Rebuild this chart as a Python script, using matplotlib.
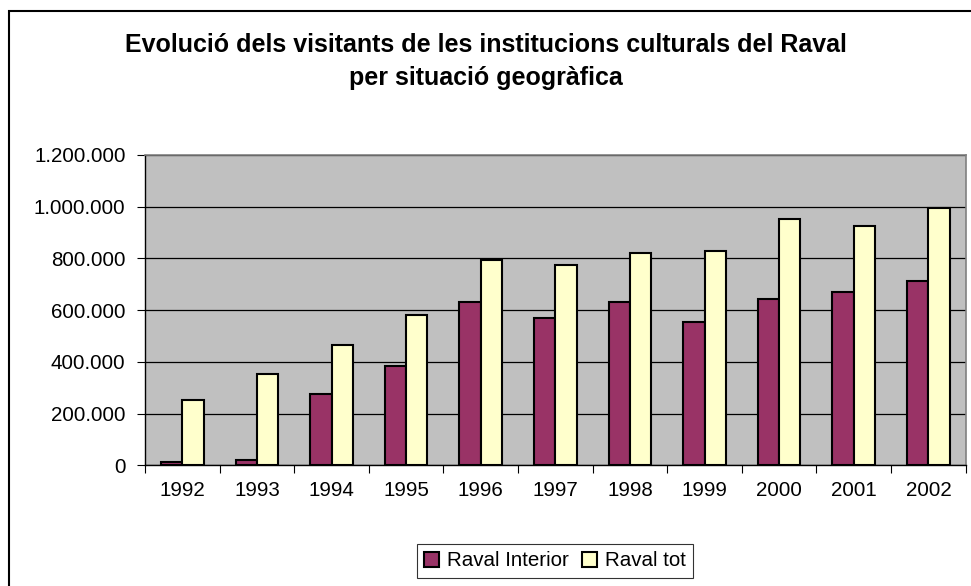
import matplotlib
matplotlib.use("Agg")
import matplotlib.pyplot as plt
from matplotlib.patches import Rectangle
from matplotlib.ticker import FuncFormatter, FixedLocator, NullFormatter
import numpy as np

plt.rcParams['font.family'] = ['Liberation Sans', 'DejaVu Sans']

years = ['1992', '1993', '1994', '1995', '1996', '1997',
         '1998', '1999', '2000', '2001', '2002']
raval_interior = [13000, 20000, 277000, 384000, 631000, 570000,
                  631000, 555000, 642000, 671000, 711000]
raval_tot = [254000, 354000, 464000, 581000, 795000, 773000,
             820000, 829000, 951000, 926000, 995000]

fig = plt.figure(figsize=(9.71, 5.86), dpi=100)
W, H = 971, 586

# chart frame (left/top edges only inside the image)
fig.patches.append(Rectangle((9 / W, -0.1), 1.2, 1 - 11 / H + 0.1,
                             transform=fig.transFigure, fill=False,
                             edgecolor='black', linewidth=1.5))

ax = fig.add_axes([145 / W, 1 - 465.3 / H, (965.7 - 145) / W, (465.3 - 155) / H])
ax.set_facecolor('#C0C0C0')

x = np.arange(len(years))
bw = 1 / 3.5
ax.bar(x - bw / 2, raval_interior, bw, color='#993366', edgecolor='black',
       linewidth=1.5, label='Raval Interior', zorder=3)
ax.bar(x + bw / 2, raval_tot, bw, color='#FFFFCC', edgecolor='black',
       linewidth=1.5, label='Raval tot', zorder=3)

ax.set_xlim(-0.5, len(years) - 0.5)
ax.set_ylim(0, 1200000)
ax.set_yticks(np.arange(0, 1200001, 200000))
ax.yaxis.set_major_formatter(FuncFormatter(lambda v, p: f'{int(v):,}'.replace(',', '.')))
ax.yaxis.grid(True, color='black', linewidth=0.9, zorder=1)
ax.set_axisbelow(True)

ax.xaxis.set_major_locator(FixedLocator(np.arange(-0.5, len(years), 1)))
ax.xaxis.set_major_formatter(NullFormatter())
ax.xaxis.set_minor_locator(FixedLocator(x))
ax.set_xticklabels(years, minor=True)
ax.tick_params(axis='x', which='minor', length=0, pad=11, labelsize=14.8)
ax.tick_params(axis='x', which='major', length=6, width=0.8, direction='out')
ax.tick_params(axis='y', length=6, width=0.8, direction='out', pad=8, labelsize=14.8)

for side in ['top', 'right']:
    ax.spines[side].set_color('#808080')
    ax.spines[side].set_linewidth(1.2)
for side in ['left', 'bottom']:
    ax.spines[side].set_color('black')
    ax.spines[side].set_linewidth(1.0)

fig.text(0.5, 1 - 45 / H, 'Evolució dels visitants de les institucions culturals del Raval',
         ha='center', va='center', fontsize=18, fontweight='bold')
fig.text(0.5, 1 - 78 / H, 'per situació geogràfica',
         ha='center', va='center', fontsize=18, fontweight='bold')

leg = fig.legend(loc='center', bbox_to_anchor=(555 / W, 1 - 561 / H), ncol=2,
                 fontsize=14.8, frameon=True, fancybox=False, edgecolor='black',
                 handlelength=0.75, handleheight=0.75, handletextpad=0.4,
                 columnspacing=0.6, borderpad=0.35, borderaxespad=0)
leg.get_frame().set_linewidth(0.8)

fig.savefig('out.png', dpi=100, facecolor='white')
